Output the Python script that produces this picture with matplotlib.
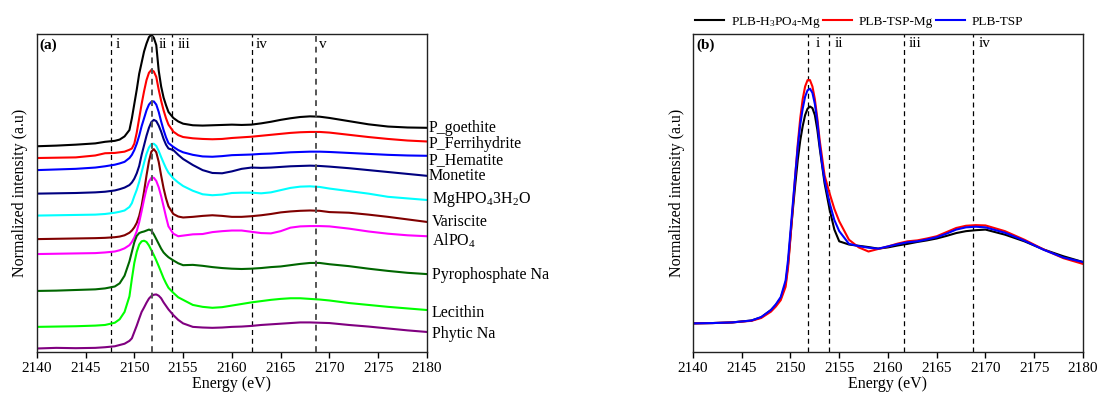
import matplotlib
matplotlib.use("Agg")
import matplotlib.pyplot as plt
import matplotlib.transforms as mtransforms

plt.rcParams['font.family'] = ['Liberation Serif', 'DejaVu Serif']
plt.rcParams['mathtext.fontset'] = 'custom'
plt.rcParams['mathtext.rm'] = 'Liberation Serif'
plt.rcParams['mathtext.it'] = 'Liberation Serif:italic'
plt.rcParams['mathtext.bf'] = 'Liberation Serif:bold'

# energy grid (eV), finer around the white line
energy = [2140, 2142, 2144, 2146, 2147, 2148, 2148.5, 2149,
          2149.5, 2149.75, 2150, 2150.25, 2150.5, 2150.75, 2151, 2151.25, 2151.5,
          2151.75, 2152, 2152.25, 2152.5, 2152.75, 2153, 2153.25, 2153.5,
          2154, 2154.5, 2155, 2156, 2157, 2158, 2159, 2160, 2161, 2162, 2163,
          2164, 2165, 2166, 2167, 2168, 2169, 2170, 2172, 2174, 2176, 2178, 2180]

# (a) reference spectra, stacked (a.u.)
p_goethite = [64.7, 64.9, 65.2, 65.6, 66.1, 66.4, 66.8, 67.8,
              69.8, 73.5, 78.0, 82.5, 87.5, 91.0, 94.5, 97.0, 99.0,
              99.8, 98.8, 96.5, 88.5, 83.5, 80.0, 77.6, 75.5,
              73.6, 72.5, 71.8, 71.3, 71.2, 71.3, 71.4, 71.5, 71.4, 71.5, 71.9,
              72.4, 73.0, 73.5, 73.9, 74.1, 74.0, 73.6, 72.6, 71.6, 70.9, 70.6, 70.5]
p_ferrihydrite = [61.0, 61.1, 61.2, 61.8, 62.5, 62.6, 62.8, 63.0,
                  63.6, 64.0, 65.5, 69.0, 73.5, 78.0, 82.0, 85.5, 87.8,
                  88.7, 88.2, 86.5, 82.5, 79.0, 76.0, 73.5, 71.5,
                  69.3, 68.2, 67.6, 67.2, 67.0, 66.9, 67.0, 67.3, 67.5, 67.7, 68.0,
                  68.3, 68.6, 68.9, 69.1, 69.2, 69.2, 69.0, 68.3, 67.6, 67.0, 66.5, 66.2]
p_hematite = [57.2, 57.4, 57.6, 58.0, 58.4, 58.9, 59.3, 59.8,
              61.0, 62.0, 63.5, 65.5, 68.0, 71.0, 73.5, 76.0, 77.8,
              78.7, 78.8, 77.8, 75.5, 72.5, 69.8, 67.5, 65.7,
              64.5, 63.5, 62.8, 62.0, 61.5, 61.4, 61.6, 61.9, 62.0, 62.1, 62.3,
              62.4, 62.6, 62.8, 62.9, 63.0, 63.0, 62.9, 62.6, 62.3, 62.0, 61.8, 61.7]
monetite = [49.8, 49.9, 50.0, 50.2, 50.4, 50.8, 51.2, 51.7,
            52.5, 53.3, 54.5, 56.2, 58.5, 62.0, 65.0, 68.0, 70.5,
            72.3, 73.0, 72.6, 71.2, 69.3, 67.0, 65.2, 64.0,
            63.5, 62.0, 60.7, 58.8, 57.2, 56.3, 56.2, 56.8, 57.6, 58.0, 57.9,
            58.0, 58.2, 58.4, 58.5, 58.6, 58.5, 58.3, 57.8, 57.2, 56.6, 56.0, 55.4]
mghpo4 = [42.9, 43.0, 43.1, 43.2, 43.4, 43.8, 44.1, 44.5,
          45.6, 46.8, 49.0, 51.0, 53.5, 56.5, 59.5, 62.3, 64.3,
          65.4, 65.5, 64.8, 63.2, 61.3, 59.5, 57.8, 56.4,
          54.6, 53.3, 52.2, 50.7, 49.6, 49.3, 49.5, 50.0, 50.1, 50.1, 49.9,
          50.2, 50.9, 51.6, 52.0, 52.1, 51.9, 51.4, 50.6, 49.8, 48.8, 48.3, 47.8]
variscite = [35.5, 35.6, 35.7, 35.8, 35.9, 36.1, 36.3, 36.7,
             37.5, 38.2, 39.2, 40.6, 42.8, 46.0, 50.5, 55.5, 60.0,
             63.0, 63.8, 62.8, 59.8, 55.5, 51.5, 48.3, 45.8,
             43.4, 42.6, 42.3, 42.5, 42.8, 43.0, 42.8, 42.5, 42.5, 42.7, 43.0,
             43.4, 43.9, 44.2, 44.4, 44.5, 44.4, 44.0, 43.8, 43.2, 42.5, 41.7, 40.9]
alpo4 = [30.8, 30.9, 31.0, 31.1, 31.3, 31.6, 32.0, 32.6,
         33.6, 34.6, 36.0, 38.0, 40.8, 44.3, 48.0, 51.3, 53.6,
         54.8, 54.8, 53.8, 51.8, 49.0, 45.8, 42.5, 39.5,
         37.2, 36.4, 36.6, 37.0, 37.1, 37.7, 38.0, 38.2, 38.2, 37.8, 37.4,
         37.3, 38.0, 39.1, 39.5, 39.6, 39.6, 39.5, 38.8, 37.9, 37.2, 36.7, 36.4]
pyrophosphate = [19.2, 19.3, 19.5, 19.7, 20.0, 20.6, 21.6, 24.0,
                 28.5, 31.5, 34.5, 36.5, 37.4, 37.7, 37.9, 38.2, 38.5,
                 38.2, 37.0, 35.5, 34.0, 32.5, 31.3, 30.5, 29.8,
                 28.8, 27.9, 27.3, 27.4, 27.1, 26.7, 26.4, 26.2, 26.1, 26.2, 26.4,
                 26.7, 26.9, 27.3, 27.7, 28.0, 28.0, 27.6, 27.0, 26.2, 25.5, 24.9, 24.5]
lecithin = [7.9, 8.0, 8.1, 8.3, 8.5, 9.2, 10.3, 12.6,
            17.5, 23.0, 28.0, 31.5, 33.8, 34.8, 35.0, 34.6, 33.5,
            32.0, 30.5, 28.8, 27.0, 25.1, 23.2, 21.6, 20.2,
            18.6, 17.2, 16.4, 14.8, 14.2, 13.9, 14.1, 14.6, 15.1, 15.6, 16.0,
            16.4, 16.7, 16.9, 16.9, 16.7, 16.5, 16.2, 15.4, 14.8, 14.2, 13.7, 13.2]
phytic = [1.1, 1.3, 1.2, 1.3, 1.5, 1.8, 2.2, 2.6,
          3.5, 4.3, 6.3, 8.3, 10.5, 12.6, 14.0, 15.5, 16.8,
          17.6, 18.0, 18.1, 17.7, 16.9, 15.6, 14.5, 13.4,
          11.6, 10.1, 9.0, 7.9, 7.7, 7.6, 7.7, 7.9, 8.0, 8.2, 8.5,
          8.7, 8.9, 9.1, 9.3, 9.3, 9.2, 9.1, 8.5, 8.0, 7.4, 6.8, 6.3]

ref_spectra = [p_goethite, p_ferrihydrite, p_hematite, monetite, mghpo4,
               variscite, alpo4, pyrophosphate, lecithin, phytic]
ref_names = ['P_goethite', 'P_Ferrihydrite', 'P_Hematite', 'Monetite',
             r'MgHPO$_4$3H$_2$O', 'Variscite', r'AlPO$_4$', 'Pyrophosphate Na',
             'Lecithin', 'Phytic Na']
ref_colors = ['#000000', '#ff0000', '#0000ff', '#000080', '#00ffff',
              '#800000', '#ff00ff', '#006600', '#00ff00', '#800080']
ref_label_y = [70.4, 65.4, 60.4, 55.5, 48.0, 40.9, 35.0, 24.1, 12.4, 5.8]

lines_a = [2147.6, 2151.8, 2153.85, 2162.1, 2168.6]
names_a = ['i', 'ii', 'iii', 'iv', 'v']
name_x_a = [2148.3, 2152.9, 2155.1, 2163.05, 2169.3]

# (b) samples
plb_h3po4_mg = [9.0, 9.1, 9.3, 9.9, 10.9, 13.2, 14.8, 16.9,
                21.5, 27.5, 36.5, 45.0, 53.0, 60.5, 66.5, 71.0, 74.5,
                76.5, 77.2, 76.7, 74.5, 70.0, 64.0, 58.5, 53.0,
                45.0, 38.5, 34.8, 33.8, 33.4, 33.0, 32.5, 32.9, 33.5, 34.0, 34.6,
                35.1, 35.7, 36.5, 37.4, 38.0, 38.3, 38.5, 36.9, 34.8, 32.2, 30.1, 28.3]
plb_tsp_mg = [9.0, 9.1, 9.3, 9.8, 10.7, 12.7, 14.3, 16.3,
              20.5, 26.5, 36.0, 46.0, 56.0, 65.5, 73.5, 79.5, 83.5,
              85.5, 85.5, 83.5, 79.5, 73.5, 66.5, 61.0, 55.5,
              50.0, 45.0, 41.1, 35.3, 32.9, 31.6, 32.4, 33.2, 34.1, 34.8, 35.1,
              35.7, 36.4, 37.7, 39.0, 39.7, 39.9, 39.8, 38.0, 35.3, 32.2, 29.5, 27.7]
plb_tsp = [9.0, 9.1, 9.3, 9.9, 11.0, 13.2, 15.0, 17.3,
           22.5, 29.0, 38.0, 47.0, 56.0, 64.5, 71.5, 76.5, 80.3,
           82.3, 82.8, 81.5, 78.0, 72.5, 65.0, 59.0, 54.0,
           47.0, 41.5, 38.0, 34.0, 33.3, 32.8, 32.5, 33.2, 33.9, 34.5, 34.8,
           35.4, 36.1, 37.2, 38.5, 39.2, 39.4, 39.2, 37.5, 35.0, 32.1, 29.7, 28.3]

sample_spectra = [plb_h3po4_mg, plb_tsp_mg, plb_tsp]
sample_names = [r'PLB-H$_3$PO$_4$-Mg', 'PLB-TSP-Mg', 'PLB-TSP']
sample_colors = ['#000000', '#ff0000', '#0000ff']

lines_b = [2151.8, 2153.9, 2161.6, 2168.7]
names_b = ['i', 'ii', 'iii', 'iv']
name_x_b = [2152.8, 2155.0, 2162.8, 2169.9]

fig = plt.figure(figsize=(11, 4.01), dpi=100)
ax1 = fig.add_axes([0.0334, 0.1222, 0.3548, 0.7930])
ax2 = fig.add_axes([0.630, 0.1222, 0.3545, 0.7930])

for ax in (ax1, ax2):
    ax.set_xlim(2140, 2180)
    ax.set_ylim(0, 100)
    ax.set_xticks(range(2140, 2181, 5))
    ax.set_yticks([])
    ax.tick_params(axis='x', direction='out', length=4, width=1, labelsize=11, pad=3)
    for s in ax.spines.values():
        s.set_linewidth(1.0)
        s.set_color('#222222')
    ax.set_xlabel('Energy (eV)', fontsize=11.5, labelpad=1)
    ax.set_ylabel('Normalized intensity (a.u)', fontsize=11.5, labelpad=6)

# panel (a)
for i, x in enumerate(lines_a):
    if names_a[i] in ('ii', 'v'):
        ax1.axvline(x, color='#555555', lw=1.4, ls=(0, (3, 2.5)), zorder=3)
    else:
        ax1.axvline(x, color='black', lw=0.9, ls=(0, (4, 3)), zorder=1)
    ax1.text(name_x_a[i], 96.6, names_a[i], ha='center', va='center', fontsize=11)

for y, name, c in zip(ref_spectra, ref_names, ref_colors):
    ax1.plot(energy, y, color=c, lw=1.5, zorder=2)

trans = mtransforms.blended_transform_factory(ax1.transAxes, ax1.transData)
for i, (name, ly) in enumerate(zip(ref_names, ref_label_y)):
    dx = 1.003 if i < 4 else 1.012
    ax1.text(dx, ly, name, transform=trans, ha='left', va='center',
             fontsize=11.5, clip_on=False)

ax1.text(0.008, 0.965, '(a)', transform=ax1.transAxes, ha='left', va='center',
         fontsize=11, fontweight='bold')

# panel (b)
for x, n, tx in zip(lines_b, names_b, name_x_b):
    ax2.axvline(x, color='black', lw=0.9, ls=(0, (4, 3)), zorder=1)
    ax2.text(tx, 97.0, n, ha='center', va='center', fontsize=11)

for y, name, c in zip(sample_spectra, sample_names, sample_colors):
    ax2.plot(energy, y, color=c, lw=1.5, label=name, zorder=2)

ax2.text(0.008, 0.965, '(b)', transform=ax2.transAxes, ha='left', va='center',
         fontsize=11, fontweight='bold')

ax2.legend(loc='lower left', bbox_to_anchor=(-0.005, 1.0), ncol=3, frameon=False,
           fontsize=9.5, handlelength=2.2, handletextpad=0.5, columnspacing=0.2,
           borderaxespad=0.1, borderpad=0.2)

fig.savefig('out.png', dpi=100)
